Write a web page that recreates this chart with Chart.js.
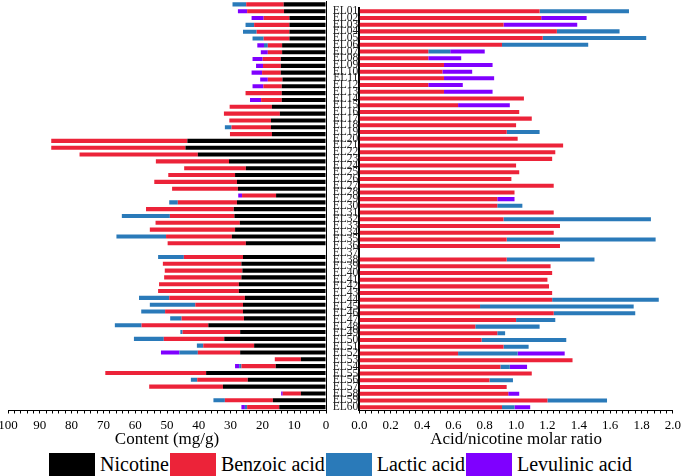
<!DOCTYPE html>
<html>
<head>
<meta charset="utf-8">
<script src="https://cdn.jsdelivr.net/npm/chart.js@4.4.0/dist/chart.umd.min.js"></script>
<style>
    body { margin: 0; width: 685px; height: 476px; overflow: hidden; background: #fff; position: relative; font-family: 'Liberation Serif', 'Times New Roman', serif; }
    #left { position: absolute; left: -10px; top: 0; }
    #right { position: absolute; left: 330px; top: 0; }
    #legend { position: absolute; left: 49px; top: 453px; height: 23px; display: flex; align-items: center; font-size: 20px; color: #000; }
    .box { width: 46px; height: 23px; margin-right: 5px; }
    .lab { margin-right: 1px; line-height: 23px; white-space: nowrap; }
</style>
</head>
<body>
<canvas id="left" width="345" height="450"></canvas>
<canvas id="right" width="355" height="450"></canvas>
<div id="legend"></div>

<script>
var samples = ['EL01', 'EL02', 'EL03', 'EL04', 'EL05', 'EL06', 'EL07', 'EL08', 'EL09', 'EL10',
    'EL11', 'EL12', 'EL13', 'EL14', 'EL15', 'EL16', 'EL17', 'EL18', 'EL19', 'EL20',
    'EL21', 'EL22', 'EL23', 'EL24', 'EL25', 'EL26', 'EL27', 'EL28', 'EL29', 'EL30',
    'EL31', 'EL32', 'EL33', 'EL34', 'EL35', 'EL36', 'EL37', 'EL38', 'EL39', 'EL40',
    'EL41', 'EL42', 'EL43', 'EL44', 'EL45', 'EL46', 'EL47', 'EL48', 'EL49', 'EL50',
    'EL51', 'EL52', 'EL53', 'EL54', 'EL55', 'EL56', 'EL57', 'EL58', 'EL59', 'EL60'];

// content (mg/g)
var nicotineContent = [13.3, 13.2, 11.5, 11.5, 11.5, 11.5, 13.8, 13.8, 14.2, 14.2,
    14.2, 13.7, 13.9, 13.9, 13.9, 17.0, 14.5, 17.3, 17.3, 17.0,
    43.6, 44.2, 40.3, 30.5, 25.2, 28.6, 28.0, 27.7, 15.7, 28.0,
    29.0, 28.8, 27.1, 28.6, 29.6, 25.2, null, 26.1, 26.6, 26.3,
    26.6, 27.4, 27.4, 25.5, 26.1, 26.1, 25.8, 37.0, 27.0, 32.0,
    22.6, 27.0, 7.9, 15.8, 37.7, 24.6, 32.4, 7.9, 16.7, 14.7];
var benzoicContent = [11.8, 11.6, 8.1, 11.1, 10.3, 8.1, 4.5, 4.5, 5.7, 5.6,
    5.9, 4.6, 5.8, 11.4, 6.5, 13.3, 17.6, 13.1, 12.4, 13.2,
    42.8, 42.2, 37.2, 23.0, 19.4, 21.0, 26.0, 20.7, 10.7, 18.6,
    27.6, 20.3, 26.5, 26.8, 20.7, 24.6, null, 18.6, 24.7, 24.4,
    24.3, 25.1, 25.4, 23.8, 15.0, 24.5, 19.6, 21.0, 18.1, 19.0,
    16.0, 13.3, 8.2, 10.8, 31.7, 15.9, 23.2, 5.7, 15.1, 10.1];
var lacticContent = [4.3, null, null, 2.7, 4.3, 3.5, 1.2, null, null, null,
    null, null, null, null, null, null, null, null, 2.1, null,
    null, null, null, null, null, null, null, null, null, 2.7,
    null, 15.1, null, null, 15.6, null, null, 8.1, null, null,
    null, null, null, 9.5, 14.3, 7.5, 3.6, 8.4, 0.7, 9.4,
    2.0, 5.8, null, 0.7, null, 2.0, null, null, 3.6, 0.7];
var levulinicContent = [null, 2.9, 3.8, null, null, null, 2.1, 2.2, 3.2, 2.2,
    3.3, 2.4, 3.4, null, 3.5, null, null, null, null, null,
    null, null, null, null, null, null, null, null, 1.2, null,
    null, null, null, null, null, null, null, null, null, null,
    null, null, null, null, null, null, null, null, null, null,
    null, 5.8, null, 1.3, null, null, null, 0.5, null, 1.1];

// acid/nicotine molar ratio
var benzoicRatio = [1.15, 1.16, 0.92, 1.26, 1.17, 0.91, 0.44, 0.44, 0.54, 0.53,
    0.54, 0.44, 0.54, 1.05, 0.63, 1.02, 1.10, 1.00, 0.94, 1.01,
    1.30, 1.25, 1.23, 1.00, 1.02, 0.97, 1.24, 0.99, 0.88, 0.88,
    1.24, 0.92, 1.28, 1.24, 0.94, 1.28, null, 0.94, 1.22, 1.23,
    1.20, 1.21, 1.23, 1.23, 0.77, 1.24, 1.00, 0.74, 0.88, 0.78,
    0.92, 0.63, 1.36, 0.90, 1.10, 0.83, 0.94, 0.95, 1.20, 0.91];
var lacticRatio = [0.57, null, null, 0.40, 0.66, 0.55, 0.14, null, null, null,
    null, null, null, null, null, null, null, null, 0.21, null,
    null, null, null, null, null, null, null, null, null, 0.16,
    null, 0.94, null, null, 0.95, null, null, 0.56, null, null,
    null, null, null, 0.68, 0.98, 0.52, 0.25, 0.41, 0.05, 0.54,
    0.16, 0.38, null, 0.06, null, 0.15, null, null, 0.38, 0.08];
var levulinicRatio = [null, 0.29, 0.47, null, null, null, 0.22, 0.21, 0.31, 0.19,
    0.32, 0.22, 0.31, null, 0.33, null, null, null, null, null,
    null, null, null, null, null, null, null, null, 0.11, null,
    null, null, null, null, null, null, null, null, null, null,
    null, null, null, null, null, null, null, null, null, null,
    null, 0.30, null, 0.11, null, null, null, 0.07, null, 0.10];

var legendNames = ['Nicotine', 'Benzoic acid', 'Lactic acid', 'Levulinic acid'];
var colours = ['#000000', '#EC2339', '#2A7AB9', '#7F00FF'];

Chart.defaults.font.family = "'Liberation Serif', 'Times New Roman', serif";
Chart.defaults.color = '#000';

function barSet(label, data, colour) {
    return {
        label: label,
        data: data,
        backgroundColor: colour,
        borderWidth: 0,
        barPercentage: 0.6,
        categoryPercentage: 1.0
    };
}

function valueAxis(min, max, step, reverse, title, labelFn) {
    return {
        type: 'linear',
        stacked: true,
        min: min,
        max: max,
        reverse: reverse,
        grid: { drawOnChartArea: false, drawTicks: true, tickLength: 3, tickColor: '#000' },
        border: { display: true, color: '#000', width: 1 },
        ticks: { stepSize: step, autoSkip: false, maxRotation: 0, padding: 4, font: { size: 13 }, callback: labelFn },
        title: { display: true, text: title, font: { size: 17 }, padding: { top: 0, bottom: 0 } },
        afterFit: function (scale) { scale.height = 39.5; }
    };
}

// left: content
new Chart(document.getElementById('left').getContext('2d'), {
    type: 'bar',
    data: {
        labels: samples,
        datasets: [
            barSet(legendNames[0], nicotineContent, colours[0]),
            barSet(legendNames[1], benzoicContent, colours[1]),
            barSet(legendNames[2], lacticContent, colours[2]),
            barSet(legendNames[3], levulinicContent, colours[3])
        ]
    },
    options: {
        indexAxis: 'y',
        responsive: false,
        animation: false,
        layout: { padding: { left: 18, right: 9, top: 1, bottom: 0 } },
        plugins: { legend: { display: false }, tooltip: { enabled: false } },
        scales: {
            x: valueAxis(0, 100, 2, true, 'Content (mg/g)', function (v) { return v % 10 === 0 ? v : ''; }),
            y: {
                stacked: true,
                position: 'right',
                grid: { display: false, drawTicks: false },
                border: { display: true, color: '#000', width: 1 },
                ticks: { display: false },
                afterFit: function (scale) { scale.width = 0; }
            }
        }
    }
});

// right: molar ratio
new Chart(document.getElementById('right').getContext('2d'), {
    type: 'bar',
    data: {
        labels: samples,
        datasets: [
            barSet(legendNames[1], benzoicRatio, colours[1]),
            barSet(legendNames[2], lacticRatio, colours[2]),
            barSet(legendNames[3], levulinicRatio, colours[3])
        ]
    },
    options: {
        indexAxis: 'y',
        responsive: false,
        animation: false,
        layout: { padding: { left: 0, right: 8.3, top: 1, bottom: 0 } },
        plugins: { legend: { display: false }, tooltip: { enabled: false } },
        scales: {
            x: valueAxis(0, 2, 0.04, false, 'Acid/nicotine molar ratio', function (v) {
                var r = Math.round(v * 100);
                return r % 20 === 0 ? (r / 100).toFixed(1) : '';
            }),
            y: {
                stacked: true,
                position: 'left',
                grid: { display: false, drawTicks: false },
                border: { display: true, color: '#000', width: 2 },
                ticks: { autoSkip: false, padding: 1, color: '#222', font: { size: 11.5 } },
                afterFit: function (scale) { scale.width = 29.3; }
            }
        }
    }
});

// legend across both panels
var legend = document.getElementById('legend');
for (var i = 0; i < legendNames.length; i++) {
    var box = document.createElement('div');
    box.className = 'box';
    box.style.background = colours[i];
    var lab = document.createElement('span');
    lab.className = 'lab';
    lab.textContent = legendNames[i];
    legend.appendChild(box);
    legend.appendChild(lab);
}
</script>
</body>
</html>
